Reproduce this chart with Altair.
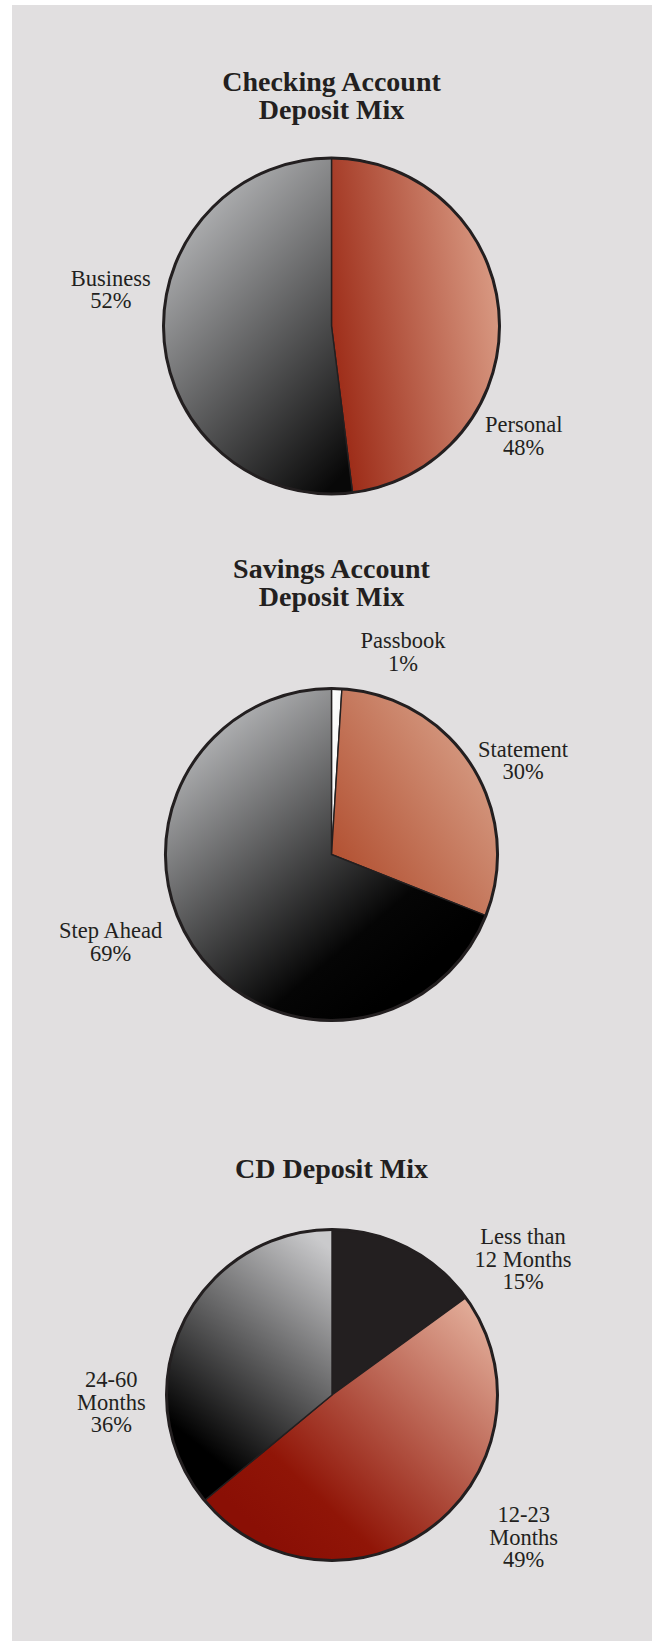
import altair as alt
import pandas as pd

# ---------------- data ----------------
checking_categories = ["Personal", "Business"]
checking_values = [48, 52]

savings_categories = ["Passbook", "Statement", "Step Ahead"]
savings_values = [1, 30, 69]

cd_categories = ["Less than\n12 Months", "12-23\nMonths", "24-60\nMonths"]
cd_values = [15, 49, 36]

titles = ["Checking Account\nDeposit Mix", "Savings Account\nDeposit Mix", "CD Deposit Mix"]

# ---------------- styling / layout ----------------
OX, OY = 12, 5          # page offset of grey panel
INK = "#231F20"
BG = "#E1DFE0"
SERIF = "Liberation Serif"
THETA = alt.Scale(domain=[0, 100])


def grad(x1, y1, x2, y2, stops):
    return {"gradient": "linear", "x1": x1, "y1": y1, "x2": x2, "y2": y2,
            "stops": [{"offset": o, "color": c} for o, c in stops]}


pies = [
    dict(cats=checking_categories, vals=checking_values, cx=331.5, cy=326, r=168,
         title=titles[0], title_y=91,
         fills=[grad(0, 0.65, 1, 0.35, [(0, "#9C2A16"), (1, "#DA9C85")]),
                grad(0.25, 0, 0.85, 1, [(0, "#BEBFC1"), (1, "#080808")])],
         labels=[(523.7, 432.3), (110.8, 285.7)]),
    dict(cats=savings_categories, vals=savings_values, cx=331.5, cy=854.5, r=166,
         title=titles[1], title_y=578,
         fills=[grad(0, 0, 1, 1, [(0, "#FFFFFF"), (0.5, "#F6F6F6"), (1, "#CFCFCF")]),
                grad(0, 1, 1, 0.1, [(0, "#AC4424"), (1, "#DCA891")]),
                grad(0.15, 0.05, 0.8, 0.85, [(0, "#BCBDBF"), (0.8, "#050505"), (1, "#000000")])],
         labels=[(403, 648.3), (523, 756.7), (110.6, 938.3)]),
    dict(cats=cd_categories, vals=cd_values, cx=332, cy=1395, r=165.5,
         title=titles[2], title_y=1178,
         fills=[INK,
                grad(0.15, 0.85, 1, 0.05, [(0, "#8A0F05"), (0.2, "#901507"), (1, "#E6B4A0")]),
                grad(0.85, 0, 0.35, 1, [(0, "#CACACC"), (0.9, "#000000")])],
         labels=[(523, 1244), (523.7, 1522.3), (111.3, 1387.3)]),
]

layers = []
for p in pies:
    df = pd.DataFrame({"category": p["cats"], "value": p["vals"],
                       "order": list(range(len(p["cats"])))})
    base = (alt.Chart(df)
            .transform_window(end="sum(value)", sort=[alt.SortField("order")], frame=[None, 0])
            .transform_calculate(start="datum.end - datum.value",
                                 label="datum.category + '\\n' + datum.value + '%'"))
    cx, cy = p["cx"] - OX, p["cy"] - OY
    for i, fill in enumerate(p["fills"]):
        layers.append(
            base.transform_filter(alt.datum.order == i)
            .mark_arc(radius=p["r"], fill=fill, stroke=INK, strokeWidth=1.4)
            .encode(theta=alt.Theta("start:Q", scale=THETA), theta2="end:Q",
                    x=alt.value(cx), y=alt.value(cy))
        )
    layers.append(
        alt.Chart(df).transform_aggregate(total="sum(value)")
        .mark_arc(radius=p["r"], filled=False, stroke=INK, strokeWidth=3)
        .encode(theta=alt.Theta("total:Q", scale=THETA), x=alt.value(cx), y=alt.value(cy))
    )
    for i, (lx, ly) in enumerate(p["labels"]):
        layers.append(
            base.transform_filter(alt.datum.order == i)
            .mark_text(font=SERIF, fontSize=22.5, color=INK, align="center",
                       baseline="alphabetic", lineBreak="\n", lineHeight=22.5)
            .encode(text="label:N", x=alt.value(lx - OX), y=alt.value(ly - OY))
        )
    layers.append(
        alt.Chart(pd.DataFrame({"title": [p["title"]]}))
        .mark_text(font=SERIF, fontSize=28, fontWeight="bold", color=INK, align="center",
                   baseline="alphabetic", lineBreak="\n", lineHeight=28)
        .encode(text="title:N", x=alt.value(331.5 - OX), y=alt.value(p["title_y"] - OY))
    )

chart = (alt.layer(*layers)
         .properties(width=640, height=1636,
                     padding={"left": OX, "top": OY, "right": 0, "bottom": 0},
                     autosize=alt.AutoSizeParams(type="none"),
                     background="white")
         .configure_view(fill=BG, strokeWidth=0))

chart.save("out.html", embed_options={"renderer": "svg", "actions": False})
